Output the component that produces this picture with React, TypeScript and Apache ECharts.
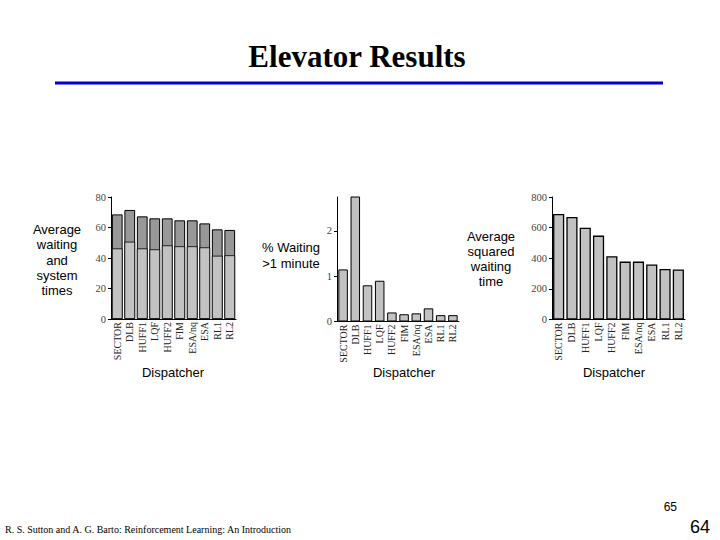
import React, { useEffect, useRef } from "react";
import * as echarts from "echarts";

const categories = ["SECTOR", "DLB", "HUFF1", "LQF", "HUFF2", "FIM", "ESA/nq", "ESA", "RL1", "RL2"];
const avgSystemTime = [68.6, 71.5, 67.3, 66.0, 66.0, 64.7, 64.7, 62.7, 58.8, 58.4];
const avgWaitingTime = [46.3, 50.7, 46.3, 45.7, 48.3, 47.7, 47.7, 47.0, 41.5, 41.8];
const pctWaitingOver1Min = [1.15, 2.77, 0.8, 0.9, 0.2, 0.16, 0.18, 0.29, 0.14, 0.14];
const avgSquaredWaiting = [689, 669, 600, 548, 413, 378, 378, 359, 330, 327];
const ticks1 = { min: 0, max: 80, interval: 20 };
const ticks2 = { min: 0, max: 2.75, interval: 1 };
const ticks3 = { min: 0, max: 800, interval: 200 };

const SANS = "Liberation Sans, Arial, sans-serif";
const SERIF = "Liberation Serif, Times New Roman, serif";

export default function App() {
  const ref = useRef<HTMLDivElement>(null);
  useEffect(() => {
    if (!ref.current) return;
    const chart = echarts.init(ref.current, null, { renderer: "svg" });
    const grids = [
      { left: 111, top: 197, width: 125, height: 122 },
      { left: 337, top: 197, width: 122, height: 124.5 },
      { left: 552, top: 197, width: 133, height: 122.5 },
    ];
    const mkX = (i: number) => ({
      type: "category",
      gridIndex: i,
      data: categories,
      axisLine: { lineStyle: { color: "#000", width: 1 } },
      axisTick: { show: false },
      axisLabel: {
        rotate: 90,
        interval: 0,
        fontFamily: SERIF,
        fontSize: 10,
        color: "#222",
        margin: 3,
      },
    });
    const mkY = (i: number, t: { min: number; max: number; interval: number }, showMax: boolean) => ({
      type: "value",
      gridIndex: i,
      min: t.min,
      max: t.max,
      interval: t.interval,
      splitLine: { show: false },
      axisLine: { show: true, lineStyle: { color: "#000", width: 1 } },
      axisTick: { show: true, length: 3, lineStyle: { color: "#000" } },
      axisLabel: {
        fontFamily: SERIF,
        fontSize: 10.5,
        color: "#444",
        margin: 5,
        showMaxLabel: showMax,
      },
    });
    const barStyle = (color: string) => ({ color, borderColor: "#000", borderWidth: 1 });
    chart.setOption({
      animation: false,
      backgroundColor: "#fff",
      grid: grids,
      xAxis: [mkX(0), mkX(1), mkX(2)],
      yAxis: [mkY(0, ticks1, true), mkY(1, ticks2, false), mkY(2, ticks3, true)],
      series: [
        {
          type: "bar",
          xAxisIndex: 0,
          yAxisIndex: 0,
          data: avgSystemTime,
          barCategoryGap: "14%",
          barGap: "-100%",
          itemStyle: barStyle("#989898"),
        },
        {
          type: "bar",
          xAxisIndex: 0,
          yAxisIndex: 0,
          data: avgWaitingTime,
          barCategoryGap: "14%",
          barGap: "-100%",
          itemStyle: { color: "#c2c2c2", borderColor: "#000", borderWidth: 0.8 },
        },
        {
          type: "bar",
          xAxisIndex: 1,
          yAxisIndex: 1,
          data: pctWaitingOver1Min,
          barCategoryGap: "22%",
          itemStyle: barStyle("#c2c2c2"),
        },
        {
          type: "bar",
          xAxisIndex: 2,
          yAxisIndex: 2,
          data: avgSquaredWaiting,
          barCategoryGap: "16%",
          itemStyle: { color: "#c2c2c2", borderColor: "#000", borderWidth: 1.3 },
        },
      ],
      graphic: [
        {
          type: "text",
          x: 357,
          y: 56,
          style: {
            text: "Elevator Results",
            font: "bold 31px " + SERIF,
            fill: "#000",
            align: "center",
            verticalAlign: "middle",
          },
        },
        {
          type: "line",
          shape: { x1: 55, y1: 83, x2: 663, y2: 83 },
          style: { stroke: "#0000cc", lineWidth: 3 },
        },
        {
          type: "text",
          x: 57,
          y: 260,
          style: {
            text: "Average\nwaiting\nand\nsystem\ntimes",
            font: "13px " + SANS,
            lineHeight: 15.3,
            fill: "#000",
            align: "center",
            verticalAlign: "middle",
          },
        },
        {
          type: "text",
          x: 291,
          y: 255,
          style: {
            text: "% Waiting\n>1 minute",
            font: "13px " + SANS,
            lineHeight: 16,
            fill: "#000",
            align: "center",
            verticalAlign: "middle",
          },
        },
        {
          type: "text",
          x: 491,
          y: 259,
          style: {
            text: "Average\nsquared\nwaiting\ntime",
            font: "13px " + SANS,
            lineHeight: 15.3,
            fill: "#000",
            align: "center",
            verticalAlign: "middle",
          },
        },
        {
          type: "text",
          x: 173,
          y: 372,
          style: { text: "Dispatcher", font: "13px " + SANS, fill: "#000", align: "center", verticalAlign: "middle" },
        },
        {
          type: "text",
          x: 404,
          y: 372,
          style: { text: "Dispatcher", font: "13px " + SANS, fill: "#000", align: "center", verticalAlign: "middle" },
        },
        {
          type: "text",
          x: 614,
          y: 372,
          style: { text: "Dispatcher", font: "13px " + SANS, fill: "#000", align: "center", verticalAlign: "middle" },
        },
        {
          type: "text",
          x: 5,
          y: 529,
          style: {
            text: "R. S. Sutton and A. G. Barto: Reinforcement Learning: An Introduction",
            font: "10px " + SERIF,
            fill: "#000",
            align: "left",
            verticalAlign: "middle",
          },
        },
        {
          type: "text",
          x: 677,
          y: 507,
          style: { text: "65", font: "12px " + SANS, fill: "#000", align: "right", verticalAlign: "middle" },
        },
        {
          type: "text",
          x: 710,
          y: 527,
          style: { text: "64", font: "18px " + SANS, fill: "#000", align: "right", verticalAlign: "middle" },
        },
      ],
    });
    return () => chart.dispose();
  }, []);
  return (
    <div
      ref={ref}
      style={{ position: "fixed", left: 0, top: 0, width: 720, height: 540, background: "#fff" }}
    />
  );
}
